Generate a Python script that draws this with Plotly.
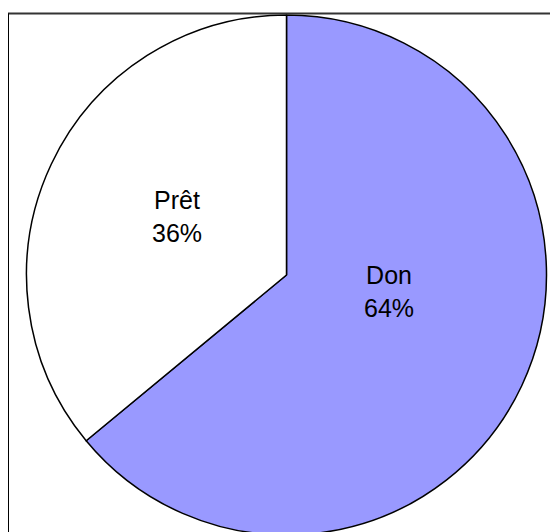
import plotly.graph_objects as go

labels = ["Don", "Prêt"]
values = [64, 36]
colors = ["#9999FF", "#FFFFFF"]
# label centres in page pixels (x, y from top)
label_pos = [(389, 291), (177, 216)]

W, H = 558, 532
OFF = 8  # default body margin of the html page

total = sum(values)

fig = go.Figure()
fig.add_trace(go.Pie(
    labels=labels,
    values=values,
    sort=False,
    direction="clockwise",
    rotation=0,
    marker=dict(colors=colors, line=dict(color="black", width=1.5)),
    textinfo="none",
    domain=dict(x=[(26.5 - OFF) / W, (546.5 - OFF) / W],
                y=[1 - (535 - OFF) / H, 1 - (15 - OFF) / H]),
    hoverinfo="skip",
))

for lab, val, (px, py) in zip(labels, values, label_pos):
    fig.add_annotation(
        x=(px - OFF) / W, y=1 - (py - OFF) / H, xref="paper", yref="paper",
        text=f"{lab}<br>{round(val / total * 100)}%",
        showarrow=False, xanchor="center", yanchor="middle",
        font=dict(family="Liberation Sans, Arial", size=25, color="black"),
    )

# chart frame (only top and left edges fall inside the picture)
fig.add_shape(type="line", xref="paper", yref="paper",
              x0=0, x1=1.05, y0=1 - (13.5 - OFF) / H, y1=1 - (13.5 - OFF) / H,
              line=dict(color="#333333", width=2))
fig.add_shape(type="line", xref="paper", yref="paper",
              x0=0.5 / W, x1=0.5 / W, y0=-0.05, y1=1 - (13.5 - OFF) / H,
              line=dict(color="black", width=1))

fig.update_layout(
    width=W, height=H,
    margin=dict(l=0, r=0, t=0, b=0),
    paper_bgcolor="white",
    plot_bgcolor="white",
    showlegend=False,
)

fig.write_html("out.html")
